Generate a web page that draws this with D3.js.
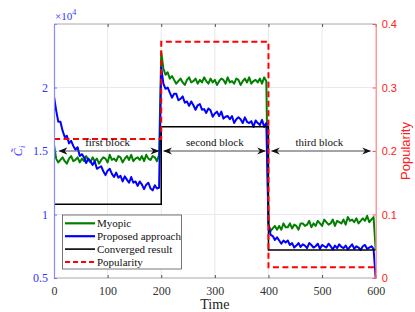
<!DOCTYPE html>
<html>
<head>
<meta charset="utf-8">
<script src="https://cdn.jsdelivr.net/npm/d3@7"></script>
<style>
  body { margin: 0; background: #fff; }
  svg { display: block; }
</style>
</head>
<body>
<div id="chart"></div>
<script>
// sample step of the noisy series (time units)
const sampleStep = 4;

// Myopic, ×10^4, one value per sample from t=0 to t=600
const myopic = [
  1.55, 1.44, 1.41, 1.43, 1.45, 1.42, 1.40, 1.44, 1.46, 1.42, 1.43, 1.45, 1.41, 1.44, 1.42, 1.46, 1.43, 1.41, 1.45, 1.42,
  1.44, 1.40, 1.43, 1.45, 1.44, 1.41, 1.47, 1.43, 1.44, 1.42, 1.46, 1.45, 1.41, 1.44, 1.46, 1.43, 1.47, 1.42, 1.44, 1.45,
  1.43, 1.46, 1.42, 1.47, 1.44, 1.43, 1.46, 1.45, 1.42, 1.47,
  2.28, 2.15, 2.10, 2.12, 2.07, 2.09, 2.06, 2.03, 2.05, 2.07, 2.04, 2.02, 2.06, 2.08, 2.04, 2.05, 2.07, 2.03, 2.06, 2.04,
  2.08, 2.05, 2.03, 2.07, 2.04, 2.06, 2.02, 2.05, 2.07, 2.06, 2.03, 2.08, 2.04, 2.05, 2.03, 2.07, 2.06, 2.02, 2.05, 2.07,
  2.04, 2.08, 2.03, 2.05, 2.06, 2.04, 2.07, 2.03, 2.08, 2.05,
  0.92, 0.87, 0.89, 0.91, 0.88, 0.91, 0.88, 0.93, 0.90, 0.90, 0.93, 0.89, 0.92, 0.91, 0.88, 0.93, 0.93, 0.91, 0.92, 0.95,
  0.90, 0.93, 0.91, 0.95, 0.93, 0.91, 0.96, 0.94, 0.92, 0.93, 0.96, 0.91, 0.95, 0.94, 0.93, 0.96, 0.92, 0.98, 0.95, 0.96,
  0.94, 0.97, 0.93, 0.95, 0.97, 0.95, 0.99, 0.94, 0.96, 0.98,
  0.72
];

// Proposed approach, ×10^4
const proposed = [
  1.93, 1.82, 1.73, 1.73, 1.66, 1.61, 1.62, 1.56, 1.58, 1.54, 1.51, 1.53, 1.46, 1.475, 1.45, 1.405, 1.44, 1.42, 1.39, 1.42,
  1.36, 1.37, 1.38, 1.34, 1.31, 1.345, 1.36, 1.32, 1.295, 1.33, 1.29, 1.305, 1.26, 1.30, 1.275, 1.25, 1.295, 1.25, 1.26, 1.225,
  1.26, 1.235, 1.20, 1.235, 1.25, 1.205, 1.19, 1.23, 1.205, 1.21,
  2.16, 2.03, 1.99, 2.00, 1.96, 1.92, 1.95, 1.95, 1.90, 1.91, 1.93, 1.88, 1.89, 1.855, 1.89, 1.86, 1.825, 1.86, 1.87, 1.825,
  1.83, 1.80, 1.835, 1.82, 1.77, 1.795, 1.81, 1.775, 1.81, 1.755, 1.77, 1.775, 1.75, 1.775, 1.72, 1.75, 1.765, 1.75, 1.72, 1.765,
  1.73, 1.72, 1.735, 1.69, 1.74, 1.72, 1.705, 1.745, 1.69, 1.72,
  0.93, 0.84, 0.83, 0.80, 0.82, 0.795, 0.77, 0.795, 0.78, 0.795, 0.76, 0.775, 0.74, 0.755, 0.775, 0.745, 0.765, 0.755, 0.735, 0.775,
  0.76, 0.74, 0.75, 0.77, 0.73, 0.76, 0.75, 0.74, 0.77, 0.75, 0.725, 0.755, 0.735, 0.765, 0.745, 0.735, 0.755, 0.725, 0.745, 0.765,
  0.73, 0.75, 0.74, 0.72, 0.75, 0.76, 0.73, 0.74, 0.75, 0.73,
  0.50
];

// step series: value holds from each edge to the next
const blockEdges = [0, 200, 400, 600];
const converged = [1.08, 1.69, 0.72, 0.72];
const popularity = [0.219, 0.372, 0.017, 0];

const blocks = [
  { name: "first block", from: 10, to: 195, label: 100 },
  { name: "second block", from: 205, to: 394, label: 300 },
  { name: "third block", from: 406, to: 590, label: 495 }
];

const xTicks = [0, 100, 200, 300, 400, 500, 600];
const leftTicks = [0.5, 1, 1.5, 2];
const rightTicks = [0, 0.1, 0.2, 0.3, 0.4];

const legendItems = [
  { name: "Myopic", color: "#008000", dash: null, w: 2.2 },
  { name: "Proposed approach", color: "#0000ff", dash: null, w: 2.2 },
  { name: "Converged result", color: "#000", dash: null, w: 1.6 },
  { name: "Popularity", color: "#ff0000", dash: "5,3", w: 2 }
];

const W = 415, H = 312;
const m = { top: 24, right: 39.3, bottom: 34, left: 54 };

const svg = d3.select("#chart").append("svg")
  .attr("width", W).attr("height", H);

const x = d3.scaleLinear().domain([0, 600]).range([m.left, W - m.right]);
const yL = d3.scaleLinear().domain([0.5, 2.5]).range([H - m.bottom, m.top]);
const yR = d3.scaleLinear().domain([0, 0.4]).range([H - m.bottom, m.top]);

const serif = "'Liberation Serif', 'DejaVu Serif', serif";
const sans = "'Liberation Sans', Arial, sans-serif";

/* grid */
svg.append("g").selectAll("line").data(xTicks.slice(1, -1)).join("line")
  .attr("x1", d => x(d)).attr("x2", d => x(d))
  .attr("y1", m.top).attr("y2", H - m.bottom)
  .attr("stroke", "#e3e3e3").attr("stroke-width", 0.8);
svg.append("g").selectAll("line").data(leftTicks.slice(1)).join("line")
  .attr("x1", m.left).attr("x2", W - m.right)
  .attr("y1", d => yL(d)).attr("y2", d => yL(d))
  .attr("stroke", "#e2e2f4").attr("stroke-width", 0.8);

/* series */
const plot = svg.append("g");
svg.append("clipPath").attr("id", "clip").append("rect")
  .attr("x", m.left).attr("y", m.top)
  .attr("width", W - m.left - m.right).attr("height", H - m.top - m.bottom);
plot.attr("clip-path", "url(#clip)");

const lineL = d3.line().x(d => x(d[0])).y(d => yL(d[1]));
const stepL = d3.line().x(d => x(d[0])).y(d => yL(d[1])).curve(d3.curveStepAfter);
const stepR = d3.line().x(d => x(d[0])).y(d => yR(d[1])).curve(d3.curveStepAfter);

const toPts = arr => arr.map((v, i) => [i * sampleStep, v]);

plot.append("path").datum(toPts(myopic))
  .attr("d", lineL).attr("fill", "none")
  .attr("stroke", "#008000").attr("stroke-width", 2).attr("stroke-linejoin", "round");
plot.append("path").datum(toPts(proposed))
  .attr("d", lineL).attr("fill", "none")
  .attr("stroke", "#0000ff").attr("stroke-width", 2).attr("stroke-linejoin", "round");
plot.append("path").datum(blockEdges.map((t, i) => [t, converged[i]]))
  .attr("d", stepL).attr("fill", "none")
  .attr("stroke", "#000").attr("stroke-width", 1.5);
plot.append("path").datum(blockEdges.map((t, i) => [t, popularity[i]]))
  .attr("d", stepR).attr("fill", "none")
  .attr("stroke", "#ff0000").attr("stroke-width", 2).attr("stroke-dasharray", "6,3.5");

/* block arrows */
const defs = svg.append("defs");
defs.append("marker").attr("id", "ah").attr("viewBox", "0 0 10 10")
  .attr("refX", 9).attr("refY", 5).attr("markerWidth", 9).attr("markerHeight", 9)
  .attr("markerUnits", "userSpaceOnUse").attr("orient", "auto-start-reverse")
  .append("path").attr("d", "M0,1 L10,5 L0,9 L3,5 Z").attr("fill", "#111");

const ann = svg.append("g");
blocks.forEach(b => {
  ann.append("line")
    .attr("x1", x(b.from)).attr("x2", x(b.to))
    .attr("y1", yL(1.5)).attr("y2", yL(1.5))
    .attr("stroke", "#444").attr("stroke-width", 0.9)
    .attr("marker-start", "url(#ah)").attr("marker-end", "url(#ah)");
  ann.append("text")
    .attr("x", x(b.label)).attr("y", yL(1.5) - 5)
    .attr("text-anchor", "middle")
    .style("font-family", serif).style("font-size", "11px").attr("fill", "#111")
    .text(b.name);
});

/* frame */
svg.append("line").attr("x1", m.left).attr("x2", W - m.right)
  .attr("y1", m.top).attr("y2", m.top).attr("stroke", "#a8a8a8").attr("stroke-width", 1);
svg.append("line").attr("x1", m.left).attr("x2", W - m.right)
  .attr("y1", H - m.bottom).attr("y2", H - m.bottom).attr("stroke", "#a8a8a8").attr("stroke-width", 1);

/* x axis */
const xAxis = svg.append("g").attr("transform", `translate(0,${H - m.bottom})`)
  .call(d3.axisBottom(x).tickValues(xTicks).tickSize(-3).tickPadding(8).tickFormat(d3.format("d")));
xAxis.select(".domain").remove();
xAxis.selectAll("line").attr("stroke", "#555");
xAxis.selectAll("text").style("font-family", serif).style("font-size", "12px").attr("fill", "#333");

const xTop = svg.append("g").attr("transform", `translate(0,${m.top})`)
  .call(d3.axisTop(x).tickValues(xTicks).tickSize(-3).tickFormat(""));
xTop.select(".domain").remove();
xTop.selectAll("line").attr("stroke", "#555");

/* left axis */
const leftAxis = svg.append("g").attr("transform", `translate(${m.left},0)`)
  .call(d3.axisLeft(yL).tickValues(leftTicks).tickSize(-3).tickPadding(6).tickFormat(d3.format("")));
leftAxis.select(".domain").attr("stroke", "#8a8aff").attr("stroke-width", 1.2);
leftAxis.selectAll("line").attr("stroke", "#6f6fff");
leftAxis.selectAll("text").style("font-family", serif).style("font-size", "12px").attr("fill", "#3333ff");

/* right axis */
const rightAxis = svg.append("g").attr("transform", `translate(${W - m.right},0)`)
  .call(d3.axisRight(yR).tickValues(rightTicks).tickSize(-3).tickPadding(6).tickFormat(d3.format("")));
rightAxis.select(".domain").attr("stroke", "#ff8080").attr("stroke-width", 1.2);
rightAxis.selectAll("line").attr("stroke", "#ff5050");
rightAxis.selectAll("text").style("font-family", sans).style("font-size", "11px").attr("fill", "#ff2020");

/* exponent */
const ex = svg.append("text").attr("x", m.left + 1).attr("y", m.top - 4)
  .style("font-family", serif).style("font-size", "11px").attr("fill", "#3333ff");
ex.append("tspan").text("×10");
ex.append("tspan").attr("dy", -5).style("font-size", "8px").text("4");

/* axis titles */
svg.append("text").attr("x", x(300)).attr("y", H - 3)
  .attr("text-anchor", "middle").style("font-family", serif).style("font-size", "14px").attr("fill", "#222")
  .text("Time");

const yt = svg.append("text")
  .attr("transform", `translate(22,${yL(1.5)}) rotate(-90)`)
  .attr("text-anchor", "middle").style("font-family", serif).style("font-size", "12px")
  .style("font-style", "italic").attr("fill", "#3333ff");
yt.append("tspan").text("C\u0303");
yt.append("tspan").attr("dy", 3).style("font-size", "8px").text("i");

svg.append("text")
  .attr("transform", `translate(410,${yR(0.2)}) rotate(-90)`)
  .attr("text-anchor", "middle").style("font-family", sans).style("font-size", "13px")
  .attr("fill", "#ff2020").text("Popularity");

/* legend */
const lg = svg.append("g");
lg.append("rect").attr("x", 62.5).attr("y", 215).attr("width", 119).attr("height", 54)
  .attr("fill", "#fff").attr("stroke", "#555").attr("stroke-width", 0.8);
legendItems.forEach((d, i) => {
  const yy = 223.3 + i * 12.9;
  lg.append("line").attr("x1", 65).attr("x2", 95).attr("y1", yy).attr("y2", yy)
    .attr("stroke", d.color).attr("stroke-width", d.w)
    .attr("stroke-dasharray", d.dash);
  lg.append("text").attr("x", 97).attr("y", yy + 4)
    .style("font-family", serif).style("font-size", "11px").attr("fill", "#111")
    .text(d.name);
});
</script>
</body>
</html>
